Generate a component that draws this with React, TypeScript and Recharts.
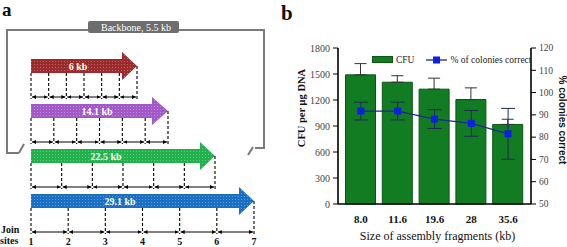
import React from "react"
import {
    ComposedChart,
    Bar,
    Line,
    XAxis,
    YAxis,
    ErrorBar,
    Legend,
    Label,
} from "recharts"

// panel b data
const sizes = ["8.0", "11.6", "19.6", "28", "35.6"]
const cfu = [1490, 1405, 1325, 1205, 918]
const cfuErr = [130, 75, 127, 135, 60]
const pctCorrect = [91.7, 91.7, 88.1, 86.2, 81.5]
const pctErr = [4, 4, 4.2, 5.8, 11.4]
const cfuTicks = [0, 300, 600, 900, 1200, 1500, 1800]
const pctTicks = [50, 60, 70, 80, 90, 100, 110, 120]

// panel a labels
const fragments = ["6 kb", "14.1 kb", "22.5 kb", "29.1 kb"]
const joinSites = [1, 2, 3, 4, 5, 6, 7]
const backbone = "Backbone, 5.5 kb"

const SERIF = "Liberation Serif, Times New Roman, serif"
const SANS = "Liberation Sans, Arial, sans-serif"
const GREEN = "#127c22"
const GREEN_DARK = "#0a5514"
const LINE = "#1b2a86"
const DOT = "#0b1fe6"

const rows = sizes.map((s, i) => ({
    size: s,
    cfu: cfu[i],
    cfuErr: [0, cfuErr[i]],
    pct: pctCorrect[i],
    pctErr: pctErr[i],
}))

// layout of the arrows in panel a
const arrowRows = [
    { color: "#9c2a2c", top: 59, head: 122, tip: 137, textX: 78 },
    { color: "#a259c8", top: 104, head: 152, tip: 168, textX: 97 },
    { color: "#22b14c", top: 149, head: 200, tip: 215, textX: 106 },
    { color: "#1a6fc2", top: 194, head: 239, tip: 254, textX: 120 },
]
const START_X = 31

function SquareDot(props: any) {
    const { cx, cy, index } = props
    if (cx == null || cy == null) return null
    return <rect key={index} x={cx - 3.5} y={cy - 3.5} width={7} height={7} fill={DOT} />
}

function YTick(props: any) {
    const { x, y, textAnchor, payload, fontSize } = props
    return (
        <text x={x} y={y} dy="0.35em" textAnchor={textAnchor} fontFamily={SERIF} fontSize={fontSize} fill="#444">
            {payload.value}
        </text>
    )
}

function XTick(props: any) {
    const { x, y, payload } = props
    return (
        <text x={x} y={y} dy="0.75em" textAnchor="middle" fontFamily={SERIF} fontWeight="bold" fontSize={11} fill="#111">
            {payload.value}
        </text>
    )
}

function LegendContent(props: any) {
    const items = [...(props.payload || [])].sort((a: any, b: any) =>
        a.dataKey === "cfu" ? -1 : b.dataKey === "cfu" ? 1 : 0
    )
    return (
        <div
            style={{
                display: "flex",
                alignItems: "center",
                height: 11,
                fontFamily: SERIF,
                fontSize: 9.5,
                color: "#222",
                whiteSpace: "nowrap",
            }}
        >
            {items.map((it: any, i: number) =>
                it.dataKey === "cfu" ? (
                    <React.Fragment key={i}>
                        <span
                            style={{
                                display: "inline-block",
                                width: 21,
                                height: 7,
                                background: GREEN,
                                border: `1px solid ${GREEN_DARK}`,
                                boxSizing: "border-box",
                            }}
                        />
                        <span style={{ marginLeft: 3 }}>{it.value}</span>
                    </React.Fragment>
                ) : (
                    <React.Fragment key={i}>
                        <svg width={21} height={8} style={{ marginLeft: 12 }}>
                            <line x1={0} y1={4} x2={21} y2={4} stroke={LINE} strokeWidth={1.3} />
                            <rect x={7} y={0.5} width={7} height={7} fill={DOT} />
                        </svg>
                        <span style={{ marginLeft: 3 }}>{it.value}</span>
                    </React.Fragment>
                )
            )}
        </div>
    )
}

function PanelA() {
    return (
        <svg width={567} height={247} style={{ position: "absolute", left: 0, top: 0 }}>
            <defs>
                <pattern id="dots" width="3" height="3" patternUnits="userSpaceOnUse">
                    <circle cx="1.5" cy="1.5" r="0.55" fill="#fff" opacity="0.35" />
                </pattern>
                <marker
                    id="ah"
                    viewBox="0 0 6 6"
                    refX="6"
                    refY="3"
                    markerWidth="4"
                    markerHeight="4"
                    orient="auto-start-reverse"
                >
                    <path d="M0,0 L6,3 L0,6 z" fill="#000" />
                </marker>
            </defs>

            <text x={2} y={16} fontFamily={SERIF} fontWeight="bold" fontSize={19} fill="#111">a</text>
            <text x={281} y={20} fontFamily={SERIF} fontWeight="bold" fontSize={21} fill="#111">b</text>

            {/* backbone frame */}
            <path
                d="M19 153 L7 153 L7 30 L264 30 L264 148 L255 148"
                fill="none"
                stroke="#7a7a7a"
                strokeWidth={2}
            />
            <path d="M19 153 L24 144" stroke="#7a7a7a" strokeWidth={2} />
            <path d="M253 147 L248 155" stroke="#7a7a7a" strokeWidth={2} />
            <rect x={88} y={21} width={91} height={12} rx={2} fill="#6e6e6e" />
            <text x={136} y={30.5} textAnchor="middle" fontFamily={SERIF} fontSize={10} fill="#fff">
                {backbone}
            </text>

            {arrowRows.map((r, i) => {
                const bottom = r.top + 14
                const joinY = bottom + 24
                const pts = `${START_X},${r.top} ${r.head},${r.top} ${r.head},${r.top - 7} ${r.tip},${r.top + 7} ${r.head},${r.top + 21} ${r.head},${bottom} ${START_X},${bottom}`
                const step = (r.tip - START_X) / (joinSites.length - 1)
                const xs = joinSites.map((_, k) => START_X + k * step)
                return (
                    <g key={i}>
                        <polygon points={pts} fill={r.color} />
                        <polygon points={pts} fill="url(#dots)" />
                        <text
                            x={r.textX}
                            y={r.top + 10.5}
                            textAnchor="middle"
                            fontFamily={SERIF}
                            fontWeight="bold"
                            fontSize={10}
                            fill="#fff"
                        >
                            {fragments[i]}
                        </text>
                        {xs.map((x, k) => (
                            <line
                                key={"d" + k}
                                x1={x}
                                y1={k === xs.length - 1 ? r.top + 7 : bottom}
                                x2={x}
                                y2={joinY + 2}
                                stroke="#000"
                                strokeWidth={1.1}
                                strokeDasharray="3 2"
                            />
                        ))}
                        {xs.slice(1).map((x, k) => (
                            <line
                                key={"a" + k}
                                x1={xs[k] + 1}
                                y1={joinY}
                                x2={x - 1}
                                y2={joinY}
                                stroke="#000"
                                strokeWidth={1}
                                markerStart="url(#ah)"
                                markerEnd="url(#ah)"
                            />
                        ))}
                        {i === arrowRows.length - 1 &&
                            xs.map((x, k) => (
                                <text
                                    key={"n" + k}
                                    x={x}
                                    y={245}
                                    textAnchor="middle"
                                    fontFamily={SERIF}
                                    fontWeight="bold"
                                    fontSize={10}
                                    fill="#111"
                                >
                                    {joinSites[k]}
                                </text>
                            ))}
                    </g>
                )
            })}
            <text x={1} y={233} fontFamily={SERIF} fontWeight="bold" fontSize={10} fill="#111">Join</text>
            <text x={0} y={244} fontFamily={SERIF} fontWeight="bold" fontSize={10} fill="#111">sites</text>
        </svg>
    )
}

export default function App() {
    return (
        <div
            style={{
                position: "absolute",
                left: 0,
                top: 0,
                width: 567,
                height: 247,
                background: "#fff",
                overflow: "hidden",
                fontFamily: SERIF,
            }}
        >
            <PanelA />
            <div style={{ position: "absolute", left: 280, top: 0 }}>
                <ComposedChart
                    width={287}
                    height={247}
                    data={rows}
                    margin={{ top: 48, right: 0, bottom: 0, left: 0 }}
                >
                    <XAxis
                        dataKey="size"
                        height={43}
                        padding={{ left: 4.5, right: 4.5 }}
                        interval={0}
                        tickLine={false}
                        tickMargin={5}
                        axisLine={{ stroke: "#000", strokeWidth: 1.6 }}
                        tick={<XTick />}
                    >
                        <Label
                            content={(p: any) => {
                                const vb = p.viewBox || {}
                                return (
                                    <text
                                        x={vb.x + vb.width / 2 + 3}
                                        y={vb.y + 36}
                                        textAnchor="middle"
                                        fontFamily={SERIF}
                                        fontSize={12}
                                        fill="#111"
                                    >
                                        Size of assembly fragments (kb)
                                    </text>
                                )
                            }}
                        />
                    </XAxis>
                    <YAxis
                        yAxisId="cfu"
                        width={58}
                        domain={[0, 1800]}
                        ticks={cfuTicks}
                        interval={0}
                        tickSize={5}
                        tickMargin={3}
                        axisLine={{ stroke: "#000", strokeWidth: 1.6 }}
                        tickLine={{ stroke: "#000" }}
                        tick={<YTick fontSize={10} />}
                    >
                        <Label
                            content={(p: any) => {
                                const vb = p.viewBox || {}
                                const x = vb.x + 21
                                const y = vb.y + vb.height / 2 - 18
                                return (
                                    <text
                                        x={x}
                                        y={y}
                                        transform={`rotate(-90 ${x} ${y})`}
                                        textAnchor="middle"
                                        dominantBaseline="central"
                                        fontFamily={SERIF}
                                        fontWeight="bold"
                                        fontSize={10.5}
                                        fill="#111"
                                    >
                                        CFU per μg DNA
                                    </text>
                                )
                            }}
                        />
                    </YAxis>
                    <YAxis
                        yAxisId="pct"
                        orientation="right"
                        width={36}
                        domain={[50, 120]}
                        ticks={pctTicks}
                        interval={0}
                        tickSize={5}
                        tickMargin={3}
                        axisLine={{ stroke: "#000", strokeWidth: 1.6 }}
                        tickLine={{ stroke: "#000" }}
                        tick={<YTick fontSize={9.5} />}
                    >
                        <Label
                            content={(p: any) => {
                                const vb = p.viewBox || {}
                                const x = vb.x + 31
                                const y = vb.y + vb.height / 2 - 6
                                return (
                                    <text
                                        x={x}
                                        y={y}
                                        transform={`rotate(90 ${x} ${y})`}
                                        textAnchor="middle"
                                        dominantBaseline="central"
                                        fontFamily={SANS}
                                        fontWeight="bold"
                                        fontSize={10}
                                        fill="#111"
                                    >
                                        % colonies correct
                                    </text>
                                )
                            }}
                        />
                    </YAxis>
                    <Legend
                        layout="horizontal"
                        verticalAlign="middle"
                        align="center"
                        wrapperStyle={{ top: 54, left: 92, width: "auto" }}
                        content={LegendContent}
                    />
                    <Bar
                        yAxisId="cfu"
                        dataKey="cfu"
                        name="CFU"
                        barSize={30}
                        fill={GREEN}
                        stroke={GREEN_DARK}
                        strokeWidth={1}
                        isAnimationActive={false}
                    >
                        <ErrorBar dataKey="cfuErr" width={6} stroke="#333" strokeWidth={1} direction="y" />
                    </Bar>
                    <Line
                        yAxisId="pct"
                        dataKey="pct"
                        name="% of colonies correct"
                        stroke={LINE}
                        strokeWidth={1.3}
                        dot={SquareDot}
                        activeDot={false}
                        isAnimationActive={false}
                    >
                        <ErrorBar dataKey="pctErr" width={7} stroke="#1f2a55" strokeWidth={1} direction="y" />
                    </Line>
                </ComposedChart>
            </div>
        </div>
    )
}
